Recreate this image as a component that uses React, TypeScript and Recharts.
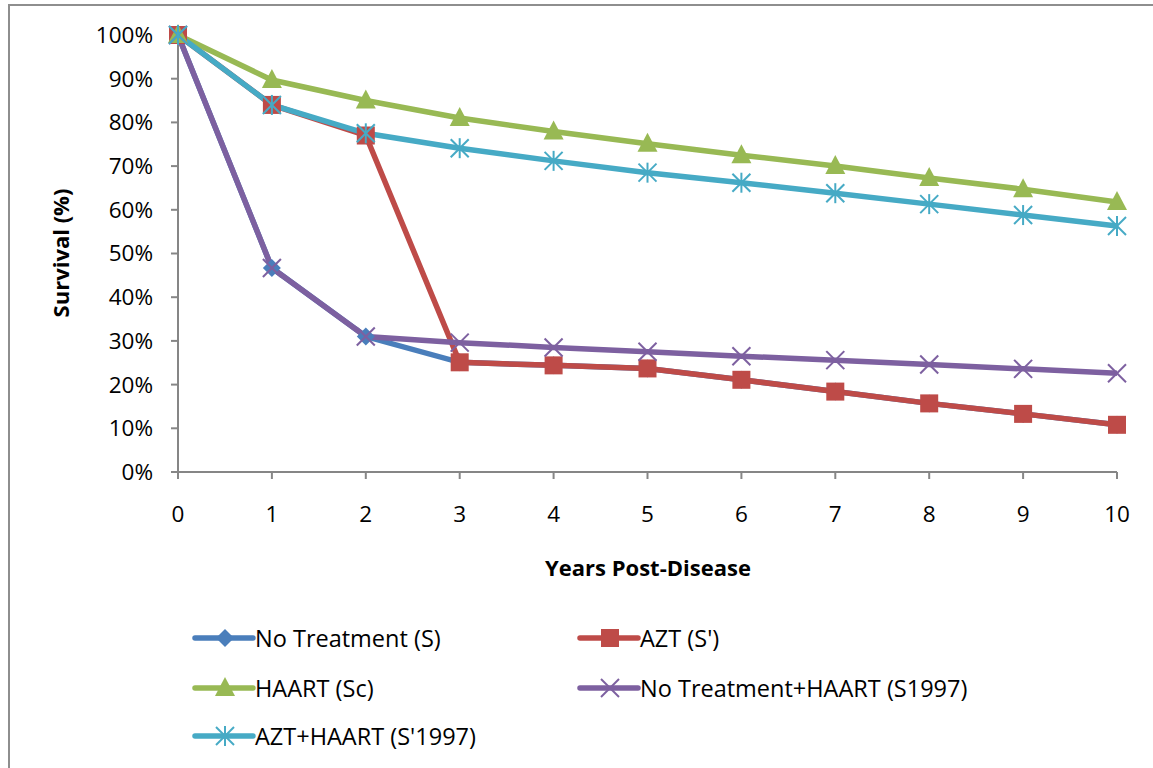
import React from 'react';
import { LineChart, Line, XAxis, YAxis } from 'recharts';

const years = [0, 1, 2, 3, 4, 5, 6, 7, 8, 9, 10];
const noTreatment = [100, 46.7, 31.0, 25.1, 24.4, 23.7, 21.1, 18.4, 15.7, 13.3, 10.8];
const azt = [100, 84.0, 77.0, 25.1, 24.4, 23.7, 21.1, 18.4, 15.7, 13.3, 10.8];
const haart = [100, 89.7, 85.0, 81.0, 77.9, 75.1, 72.5, 70.0, 67.3, 64.7, 61.8];
const noTreatmentHaart = [100, 46.7, 31.0, 29.6, 28.5, 27.5, 26.5, 25.6, 24.6, 23.6, 22.6];
const aztHaart = [100, 84.0, 77.5, 74.1, 71.2, 68.5, 66.2, 63.8, 61.3, 58.8, 56.3];
const yTicks = [0, 10, 20, 30, 40, 50, 60, 70, 80, 90, 100];

const seriesKeys = ['s', 'sp', 'sc', 's1997', 'sp1997'];
const seriesNames = ['No Treatment (S)', "AZT (S')", 'HAART (Sc)', 'No Treatment+HAART (S1997)', "AZT+HAART (S'1997)"];
const seriesColors = ['#4A7EBB', '#BE4B48', '#98B954', '#7D60A0', '#46AAC5'];
const seriesMarkers = ['diamond', 'square', 'triangle', 'x', 'star'];

const data = years.map((y, i) => ({
  year: y,
  s: noTreatment[i],
  sp: azt[i],
  sc: haart[i],
  s1997: noTreatmentHaart[i],
  sp1997: aztHaart[i],
}));

const FONT = '"Open Sans", sans-serif';

function Marker({ cx, cy, kind, color }: { cx: number; cy: number; kind: string; color: string }) {
  if (cx == null || cy == null) return null;
  const r = 9;
  if (kind === 'diamond') {
    return <polygon points={`${cx},${cy - r} ${cx + r},${cy} ${cx},${cy + r} ${cx - r},${cy}`} fill={color} />;
  }
  if (kind === 'square') {
    return <rect x={cx - r} y={cy - r} width={2 * r} height={2 * r} fill={color} />;
  }
  if (kind === 'triangle') {
    return <polygon points={`${cx},${cy - 11} ${cx + 10},${cy + 8} ${cx - 10},${cy + 8}`} fill={color} />;
  }
  if (kind === 'x') {
    return (
      <g stroke={color} strokeWidth={2}>
        <line x1={cx - r} y1={cy - r} x2={cx + r} y2={cy + r} />
        <line x1={cx - r} y1={cy + r} x2={cx + r} y2={cy - r} />
      </g>
    );
  }
  return (
    <g stroke={color} strokeWidth={2}>
      <line x1={cx - r} y1={cy - r} x2={cx + r} y2={cy + r} />
      <line x1={cx - r} y1={cy + r} x2={cx + r} y2={cy - r} />
      <line x1={cx} y1={cy - r - 1} x2={cx} y2={cy + r + 1} />
    </g>
  );
}

const legendPos = [
  { x: 195, y: 638 },
  { x: 580, y: 638 },
  { x: 195, y: 688 },
  { x: 580, y: 688 },
  { x: 195, y: 736 },
];

export default function App() {
  return (
    <div style={{ position: 'absolute', left: 0, top: 0, width: 1153, height: 768, background: '#fff', overflow: 'hidden' }}>
      <div
        style={{
          position: 'absolute',
          left: 8,
          top: 4,
          width: 1200,
          height: 800,
          borderTop: '2px solid #8E8E8E',
          borderLeft: '2px solid #8E8E8E',
        }}
      />
      <div style={{ position: 'absolute', left: 0, top: 0 }}>
        <LineChart
          width={1153}
          height={768}
          data={data}
          margin={{ top: 35, right: 36, left: 78, bottom: 266 }}
        >
          <XAxis
            dataKey="year"
            type="number"
            domain={[0, 10]}
            ticks={years}
            interval={0}
            axisLine={{ stroke: '#868686', strokeWidth: 2 }}
            tickLine={{ stroke: '#868686', strokeWidth: 2 }}
            tickSize={7}
            tickMargin={27}
            height={30}
            tick={{ fill: '#000', fontSize: 22.5, fontFamily: FONT }}
          />
          <YAxis
            type="number"
            domain={[0, 100]}
            ticks={yTicks}
            interval={0}
            width={100}
            tickFormatter={(v: number) => `${v}%`}
            axisLine={{ stroke: '#868686', strokeWidth: 2 }}
            tickLine={{ stroke: '#868686', strokeWidth: 2 }}
            tickSize={7}
            tickMargin={18}
            tick={{ fill: '#000', fontSize: 22.5, fontFamily: FONT }}
          />
          {seriesKeys.map((k, i) => (
            <Line
              key={k}
              dataKey={k}
              name={seriesNames[i]}
              type="linear"
              stroke={seriesColors[i]}
              strokeWidth={5.5}
              isAnimationActive={false}
              dot={(p: any) => (
                <Marker key={`${k}-${p.index}`} cx={p.cx} cy={p.cy} kind={seriesMarkers[i]} color={seriesColors[i]} />
              )}
              activeDot={false}
            />
          ))}
        </LineChart>
      </div>
      <svg width={1153} height={768} style={{ position: 'absolute', left: 0, top: 0, pointerEvents: 'none' }}>
        <text
          x={60}
          y={253}
          transform="rotate(-90 60 253)"
          textAnchor="middle"
          dominantBaseline="central"
          fontFamily={FONT}
          fontWeight="bold"
          fontSize={22}
          fill="#000"
        >
          Survival (%)
        </text>
        <text
          x={648}
          y={567}
          textAnchor="middle"
          dominantBaseline="central"
          fontFamily={FONT}
          fontWeight="bold"
          fontSize={22}
          fill="#000"
        >
          Years Post-Disease
        </text>
        {seriesNames.map((name, i) => {
          const { x, y } = legendPos[i];
          return (
            <g key={name}>
              <line x1={x} y1={y} x2={x + 58} y2={y} stroke={seriesColors[i]} strokeWidth={5.5} strokeLinecap="round" />
              <Marker cx={x + 30} cy={y} kind={seriesMarkers[i]} color={seriesColors[i]} />
              <text x={x + 60} y={y} dominantBaseline="central" fontFamily={FONT} fontSize={23.5} fill="#000">
                {name}
              </text>
            </g>
          );
        })}
      </svg>
    </div>
  );
}
